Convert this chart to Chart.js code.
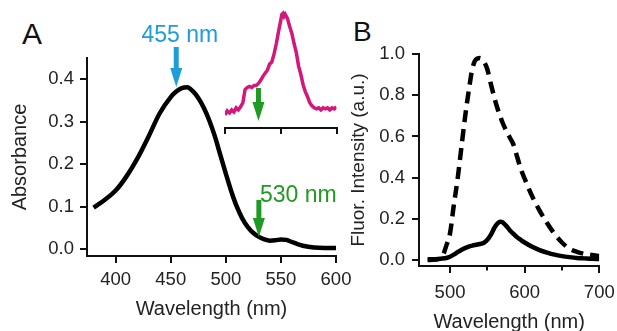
<!DOCTYPE html>
<html>
<head>
<meta charset="utf-8">
<script src="https://cdn.jsdelivr.net/npm/chart.js@4.4.1/dist/chart.umd.min.js"></script>
<style>
  body { margin: 0; width: 617px; height: 331px; overflow: hidden; background: #fff; position: relative;
         font-family: "Liberation Sans", Arial, sans-serif; }
  canvas { position: absolute; }
  .panel { position: absolute; line-height: 1; color: #111; }
</style>
</head>
<body>
<div class="panel" style="left:22px;top:19px;font-size:30px">A</div>
<div class="panel" style="left:353px;top:18px;font-size:28px">B</div>
<canvas id="absChart" width="360" height="331" style="left:0;top:0"></canvas>
<canvas id="insetChart" width="135" height="145" style="left:215px;top:0"></canvas>
<canvas id="emChart" width="277" height="345" style="left:340px;top:0"></canvas>
<script>
// panel A: absorbance
const ABS_WL  = [380, 390, 400, 410, 420, 430, 440, 450, 455, 460, 465, 470, 475, 480, 485, 490, 495, 500,
                 505, 510, 515, 520, 525, 530, 535, 540, 545, 550, 555, 560, 565, 570, 580, 590, 600];
const ABS_VAL = [0.098, 0.116, 0.138, 0.172, 0.215, 0.266, 0.320, 0.358, 0.371, 0.379, 0.381, 0.372, 0.356,
                 0.333, 0.303, 0.266, 0.222, 0.178, 0.136, 0.100, 0.072, 0.052, 0.038, 0.029, 0.023, 0.020,
                 0.021, 0.023, 0.022, 0.017, 0.012, 0.008, 0.004, 0.003, 0.003];
const ABS_X_TICKS = [400, 450, 500, 550, 600];
const ABS_Y_TICKS = [0, 0.1, 0.2, 0.3, 0.4];

// inset: excitation spectrum (normalised)
const EXC_WL  = [500, 502, 504, 506, 508, 510, 512, 514, 516, 518, 520, 522, 524, 526, 528, 530, 532, 534,
                 536, 538, 540, 542, 544, 546, 548, 550, 551, 552, 553, 554, 556, 558, 560, 562, 564, 566,
                 568, 570, 572, 574, 576, 578, 580, 582, 584, 586, 588, 590, 592, 594, 596, 598, 600];
const EXC_VAL = [0.00, 0.04, 0.02, 0.05, 0.03, 0.07, 0.05, 0.08, 0.12, 0.25, 0.27, 0.28, 0.27, 0.29, 0.29,
                 0.31, 0.34, 0.38, 0.41, 0.44, 0.50, 0.52, 0.60, 0.70, 0.82, 0.93, 0.99, 1.00, 0.97, 0.99,
                 0.95, 0.87, 0.80, 0.70, 0.61, 0.48, 0.40, 0.30, 0.23, 0.18, 0.12, 0.09, 0.07, 0.06, 0.07,
                 0.05, 0.07, 0.06, 0.07, 0.05, 0.07, 0.06, 0.08];
const EXC_X_TICKS = [500, 550, 600];

// panel B: emission
const EM_WL     = [470, 480, 490, 495, 500, 505, 510, 515, 520, 525, 530, 535, 540, 545, 550, 555, 560, 565,
                   568, 570, 575, 580, 585, 590, 595, 600, 610, 620, 630, 640, 650, 660, 670, 680, 690, 700];
const EM_SOLID  = [0.004, 0.004, 0.007, 0.010, 0.016, 0.026, 0.038, 0.049, 0.058, 0.065, 0.070, 0.074, 0.078,
                   0.083, 0.098, 0.125, 0.160, 0.182, 0.186, 0.184, 0.167, 0.145, 0.127, 0.110, 0.097, 0.085,
                   0.064, 0.048, 0.036, 0.026, 0.019, 0.014, 0.010, 0.008, 0.006, 0.005];
const EM_DASHED = [0.000, 0.002, 0.020, 0.070, 0.130, 0.265, 0.390, 0.540, 0.690, 0.820, 0.930, 0.975, 0.980,
                   0.965, 0.925, 0.850, 0.780, 0.720, 0.690, 0.670, 0.630, 0.595, 0.560, 0.500, 0.440, 0.395,
                   0.310, 0.240, 0.180, 0.127, 0.085, 0.055, 0.040, 0.030, 0.024, 0.020];
const EM_X_TICKS = [500, 600, 700];
const EM_X_MINOR = [550, 650];
const EM_Y_TICKS = [0, 0.2, 0.4, 0.6, 0.8, 1.0];

const FONT = '"Liberation Sans", Arial, sans-serif';
const INK = '#111';
const TEXT = '#222';
const BLUE = '#1e9dd8';
const GREEN = '#1f9a22';
const MAGENTA = '#d4177c';

function pts(xs, ys) {
  return xs.map((x, i) => ({ x: x, y: ys[i] }));
}

// keep the plot areas where the figure has them
function fixBox(size) {
  return function (scale) {
    if (scale.isHorizontal()) scale.height = size; else scale.width = size;
    scale.paddingLeft = scale.paddingRight = scale.paddingTop = scale.paddingBottom = 0;
  };
}

function setTicks(list) {
  return function (scale) { scale.ticks = list.map(v => ({ value: v })); };
}

function axis(extra) {
  return Object.assign({
    type: 'linear',
    grid: { display: true, drawOnChartArea: false, drawTicks: true, tickLength: 7, color: INK, lineWidth: 2 },
    border: { display: true, color: INK, width: 2 },
  }, extra);
}

// arrows with labels, placed in data units
const arrowPlugin = {
  id: 'arrows',
  afterDatasetsDraw(chart, args, opts) {
    const ctx = chart.ctx;
    const xs = chart.scales.x, ys = chart.scales.y;
    (opts.items || []).forEach(a => {
      const x = xs.getPixelForValue(a.at);
      const y0 = ys.getPixelForValue(a.from);
      const y1 = ys.getPixelForValue(a.to);
      ctx.save();
      ctx.fillStyle = a.color;
      ctx.fillRect(x - 2.5, y0, 5, y1 - y0 - 17);
      ctx.beginPath();
      ctx.moveTo(x - 6, y1 - 19);
      ctx.lineTo(x + 6, y1 - 19);
      ctx.lineTo(x, y1);
      ctx.closePath();
      ctx.fill();
      if (a.text) {
        ctx.font = '23px ' + FONT;
        ctx.textAlign = a.align;
        ctx.textBaseline = 'alphabetic';
        ctx.fillText(a.text, x + a.dx, y0 + a.dy);
      }
      ctx.restore();
    });
  }
};

const common = {
  responsive: false,
  animation: false,
  plugins: { legend: { display: false }, tooltip: { enabled: false } },
  elements: { point: { radius: 0 } },
};

new Chart(document.getElementById('absChart'), {
  type: 'line',
  data: {
    datasets: [{
      data: pts(ABS_WL, ABS_VAL),
      borderColor: '#000',
      borderWidth: 4.5,
      cubicInterpolationMode: 'monotone',
      fill: false,
    }]
  },
  options: Object.assign({}, common, {
    layout: { autoPadding: false, padding: { left: 0, top: 58, right: 24, bottom: 0 } },
    plugins: Object.assign({}, common.plugins, {
      arrows: {
        items: [
          { at: 455, from: 0.476, to: 0.382, color: BLUE, text: '455 nm', align: 'center', dx: 3.5, dy: -5 },
          { at: 530, from: 0.116, to: 0.029, color: GREEN, text: '530 nm', align: 'left', dx: 1, dy: 2 },
        ]
      }
    }),
    scales: {
      x: axis({
        min: 374, max: 600,
        afterBuildTicks: setTicks(ABS_X_TICKS),
        afterFit: fixBox(75),
        ticks: { autoSkip: false, maxRotation: 0, padding: 6, color: TEXT, font: { family: FONT, size: 18.5 } },
        title: { display: true, text: 'Wavelength (nm)', color: TEXT, padding: { top: 0, bottom: 10 },
                 font: { family: FONT, size: 20 } },
      }),
      y: axis({
        min: -0.016, max: 0.45,
        afterBuildTicks: setTicks(ABS_Y_TICKS),
        afterFit: fixBox(87),
        ticks: { padding: 6, color: TEXT, font: { family: FONT, size: 18.5 }, callback: v => v.toFixed(1) },
        title: { display: true, text: 'Absorbance', color: TEXT, padding: { top: 8, bottom: 0 },
                 font: { family: FONT, size: 20 } },
      }),
    }
  }),
  plugins: [arrowPlugin]
});

new Chart(document.getElementById('insetChart'), {
  type: 'line',
  data: {
    datasets: [{
      data: pts(EXC_WL, EXC_VAL),
      borderColor: MAGENTA,
      borderWidth: 3.5,
      tension: 0,
      fill: false,
    }]
  },
  options: Object.assign({}, common, {
    layout: { autoPadding: false, padding: { left: 10, top: 10, right: 13.5, bottom: 0 } },
    plugins: Object.assign({}, common.plugins, {
      arrows: { items: [{ at: 530, from: 0.265, to: -0.059, color: GREEN }] }
    }),
    scales: {
      x: axis({
        min: 500, max: 600,
        afterBuildTicks: setTicks(EXC_X_TICKS),
        afterFit: fixBox(17),
        grid: { display: true, drawOnChartArea: false, drawTicks: true, tickLength: 6, color: INK, lineWidth: 2 },
        ticks: { display: false },
      }),
      y: { type: 'linear', display: false, min: -0.128, max: 1.032 },
    }
  }),
  plugins: [arrowPlugin]
});

const B_Y_MIN = -0.029;
new Chart(document.getElementById('emChart'), {
  type: 'line',
  data: {
    datasets: [
      {
        data: pts(EM_WL, EM_DASHED),
        borderColor: '#000',
        borderWidth: 4.5,
        borderDash: [12, 7],
        cubicInterpolationMode: 'monotone',
        fill: false,
      },
      {
        data: pts(EM_WL, EM_SOLID),
        borderColor: '#000',
        borderWidth: 4.5,
        cubicInterpolationMode: 'monotone',
        fill: false,
      }
    ]
  },
  options: Object.assign({}, common, {
    layout: { autoPadding: false, padding: { left: 0, top: 54, right: 17.7, bottom: 0 } },
    scales: {
      x: axis({
        min: 458.4, max: 700,
        afterBuildTicks: setTicks(EM_X_TICKS),
        afterFit: fixBox(79),
        ticks: { autoSkip: false, maxRotation: 0, padding: 9, color: TEXT, font: { family: FONT, size: 18.5 } },
        title: { display: true, text: 'Wavelength (nm)', color: TEXT, padding: { top: 0, bottom: 10.5 },
                 font: { family: FONT, size: 20 } },
      }),
      xm: {
        type: 'linear', axis: 'x', position: { y: B_Y_MIN },
        min: 458.4, max: 700,
        afterBuildTicks: setTicks(EM_X_MINOR),
        afterFit: fixBox(0),
        grid: { display: true, drawOnChartArea: false, drawTicks: true, tickLength: 4.5, color: INK, lineWidth: 2 },
        border: { display: false },
        ticks: { display: false },
      },
      y: axis({
        min: B_Y_MIN, max: 1.0,
        afterBuildTicks: setTicks(EM_Y_TICKS),
        afterFit: fixBox(79),
        ticks: { padding: 7, color: TEXT, font: { family: FONT, size: 18.5 }, callback: v => v.toFixed(1) },
        title: { display: true, text: 'Fluor. Intensity (a.u.)', color: TEXT, padding: { top: 7.6, bottom: 0 },
                 font: { family: FONT, size: 19 } },
      }),
    }
  })
});
</script>
</body>
</html>
